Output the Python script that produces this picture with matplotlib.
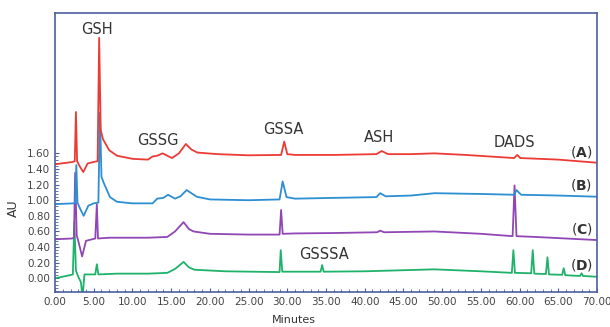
import matplotlib.pyplot as plt
from matplotlib.ticker import MultipleLocator, FixedLocator

# Chromatogram traces (minutes, AU)
a_x = [0, 2.3, 2.55, 2.7, 2.85, 3.1, 3.65, 4.2, 5.0, 5.5, 5.7, 5.9, 6.2, 7.0, 8.0, 10.0, 12.0,
       12.6, 13.2, 13.9, 14.5, 15.1, 16.0, 16.9, 17.6, 18.4, 21.0, 25.0, 29.2, 29.6, 30.0, 31.0,
       36.0, 41.5, 42.2, 43.0, 46.0, 49.0, 53.0, 59.3, 59.7, 60.1, 65.0, 70.0]
a_y = [1.46, 1.49, 1.50, 2.13, 1.50, 1.45, 1.36, 1.47, 1.49, 1.50, 3.08, 1.90, 1.78, 1.64, 1.57,
       1.53, 1.52, 1.56, 1.57, 1.60, 1.57, 1.54, 1.60, 1.72, 1.65, 1.61, 1.59, 1.575, 1.58, 1.75,
       1.59, 1.58, 1.58, 1.59, 1.63, 1.59, 1.59, 1.60, 1.58, 1.54, 1.58, 1.54, 1.52, 1.48]

b_x = [0, 2.4, 2.6, 2.75, 2.9, 3.2, 3.7, 4.3, 5.0, 5.6, 5.8, 6.0, 6.3, 7.1, 8.0, 10.0, 12.6,
       13.2, 14.0, 14.6, 15.5, 16.2, 17.0, 18.3, 20.0, 25.0, 29.0, 29.4, 29.9, 31.0, 36.0, 41.5,
       42.0, 42.7, 46.0, 49.0, 55.0, 59.3, 59.6, 60.2, 65.0, 70.0]
b_y = [0.95, 0.96, 0.97, 1.45, 0.97, 0.90, 0.80, 0.93, 0.96, 0.97, 2.12, 1.30, 1.22, 1.04, 0.98,
       0.96, 0.96, 1.02, 1.03, 1.07, 1.02, 1.05, 1.13, 1.045, 1.01, 1.0, 1.01, 1.24, 1.04, 1.02,
       1.03, 1.04, 1.09, 1.05, 1.06, 1.09, 1.08, 1.07, 1.13, 1.07, 1.06, 1.045]

c_x = [0, 2.2, 2.45, 2.6, 2.8, 3.0, 3.5, 4.0, 5.2, 5.4, 5.55, 7.0, 12.0, 14.5, 15.5, 16.6, 17.3,
       17.9, 20.0, 25.0, 29.0, 29.2, 29.4, 31.0, 36.0, 41.6, 42.0, 42.5, 49.0, 55.0, 59.1, 59.35,
       59.6, 62.0, 70.0]
c_y = [0.50, 0.51, 0.52, 1.35, 0.55, 0.48, 0.28, 0.48, 0.51, 0.95, 0.51, 0.52, 0.52, 0.53, 0.60,
       0.72, 0.63, 0.60, 0.57, 0.56, 0.56, 0.875, 0.57, 0.575, 0.58, 0.59, 0.61, 0.59, 0.60, 0.57,
       0.54, 1.19, 0.54, 0.53, 0.49]

d_x = [0, 1.9, 2.3, 2.5, 2.7, 3.0, 3.35, 3.55, 3.8, 5.2, 5.4, 5.6, 8.0, 12.0, 14.5, 15.5, 16.6,
       17.3, 18.0, 22.0, 29.0, 29.15, 29.35, 31.0, 34.3, 34.5, 34.7, 40.0, 49.0, 55.0, 59.0, 59.2,
       59.4, 61.5, 61.7, 61.9, 63.4, 63.6, 63.8, 65.5, 65.7, 65.9, 67.8, 68.0, 68.2, 70.0]
d_y = [0.0, 0.04, 0.05, 0.72, 0.10, 0.02, -0.05, -0.25, 0.05, 0.05, 0.18, 0.05, 0.06, 0.06, 0.07,
       0.12, 0.21, 0.14, 0.11, 0.09, 0.08, 0.36, 0.085, 0.085, 0.085, 0.17, 0.085, 0.09, 0.115,
       0.09, 0.07, 0.36, 0.07, 0.065, 0.36, 0.06, 0.055, 0.27, 0.05, 0.045, 0.13, 0.04, 0.03,
       0.065, 0.03, 0.02]

# peak labels: text, x, y
peak_labels = [('GSH', 5.4, 3.19), ('GSSG', 13.3, 1.77), ('GSSA', 29.5, 1.91),
               ('ASH', 41.8, 1.80), ('DADS', 59.3, 1.74), ('GSSSA', 34.7, 0.30)]
trace_labels = [('A', 1.62), ('B', 1.19), ('C', 0.63), ('D', 0.17)]

fig = plt.figure(figsize=(6.1, 3.27), dpi=100)
ax = fig.add_axes([0.0902, 0.108, 0.8885, 0.852])

ax.plot(d_x, d_y, color='#1fb26a', lw=1.3)
ax.plot(c_x, c_y, color='#9047b5', lw=1.3)
ax.plot(b_x, b_y, color='#2c8ed3', lw=1.3)
ax.plot(a_x, a_y, color='#ec3b35', lw=1.3)

for txt, x, y in peak_labels:
    ax.text(x, y, txt, ha='center', va='center', fontsize=10.5, color='#333333')
for letter, y in trace_labels:
    ax.text(68.0, y, r'($\mathbf{' + letter + '}$)', ha='center', va='center',
            fontsize=10, color='#333333')

ax.set_xlim(0, 70)
ax.set_ylim(-0.171, 3.396)
ax.xaxis.set_major_locator(MultipleLocator(5))
ax.xaxis.set_minor_locator(MultipleLocator(1))
ax.yaxis.set_major_locator(FixedLocator([i * 0.2 for i in range(9)]))
ax.yaxis.set_minor_locator(FixedLocator([i * 0.04 for i in range(-4, 41)]))
ax.xaxis.set_major_formatter(lambda v, p: f'{v:.2f}')
ax.yaxis.set_major_formatter(lambda v, p: f'{v:.2f}')

spine_col = '#4d5f9e'
for s in ax.spines.values():
    s.set_color(spine_col)
    s.set_linewidth(1.2)
ax.tick_params(which='both', direction='in', color=spine_col, labelsize=7.5,
               labelcolor='#444444', top=False, right=False)
ax.tick_params(which='major', length=3, width=0.8)
ax.tick_params(which='minor', length=2, width=0.6)

ax.set_xlabel('Minutes', fontsize=8, color='#333333')
ax.xaxis.set_label_coords(0.44, -0.085)
ax.set_ylabel('AU', fontsize=9, color='#333333')
ax.yaxis.set_label_coords(-0.064, 0.30)

fig.savefig('out.png', dpi=100)
